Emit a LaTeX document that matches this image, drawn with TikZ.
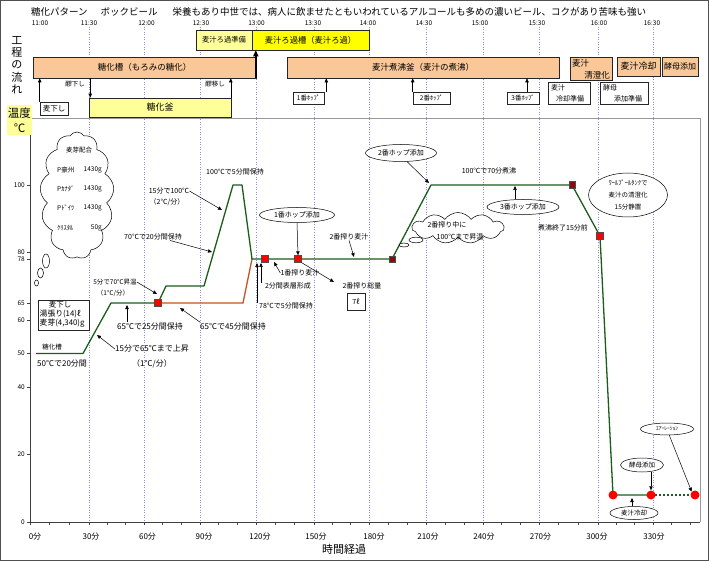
\documentclass[tikz,border=0pt]{standalone}
\usepackage{fontspec}
\setmainfont{Noto Sans CJK JP}
\usetikzlibrary{arrows.meta,shapes.geometric,shapes.symbols}
\definecolor{peach}{RGB}{249,199,152}
\definecolor{lyel}{RGB}{255,255,153}
\definecolor{byel}{RGB}{255,255,0}
\definecolor{dgreen}{RGB}{28,92,28}
\definecolor{rust}{RGB}{196,84,36}
\definecolor{gridc}{RGB}{140,140,228}
\definecolor{dred}{RGB}{140,10,10}
\definecolor{framec}{RGB}{80,80,80}
\tikzset{
  fs/.style={font=\fontsize{#1}{#1}\selectfont},
  boxline/.style={draw=black!85, line width=0.6pt, inner sep=0pt},
  obox/.style={boxline, fill=peach},
  ybox/.style={boxline, fill=lyel},
  bbox/.style={boxline, fill=byel},
  wbox/.style={boxline, fill=white},
  arr/.style={-{Triangle[length=4pt,width=3.4pt]}, line width=0.5pt},
  tarr/.style={-{Triangle[length=6pt,width=5pt]}, line width=2pt},
  oval/.style={ellipse, draw, line width=0.5pt, fill=white, inner sep=0pt},
  rsq/.style={rectangle, draw=black!70, line width=0.4pt, fill=red, minimum size=7pt, inner sep=0pt},
  dsq/.style={rsq, fill=dred},
  rdot/.style={circle, fill=red, minimum size=9pt, inner sep=0pt},
  gline/.style={gridc, dash pattern=on 1pt off 1.5pt, line width=0.45pt},
  tcurve/.style={dgreen, line width=1.3pt},
  lbl/.style={inner sep=0pt, fs=7},
}
\begin{document}
\begin{tikzpicture}[x=1pt,y=-1pt]
\useasboundingbox (0,0) rectangle (709,561);
\fill[white] (0,0) rectangle (709,561);
\draw[framec, line width=1.2pt] (0.6,0.6) rectangle (708.4,560.4);

% title and time labels
\node[anchor=west, inner sep=0pt, fs=9.5] (title) at (31,12) {糖化パターン\hspace{13pt}ボックビール\hspace{15pt}栄養もあり中世では、病人に飲ませたともいわれているアルコールも多めの濃いビール、コクがあり苦味も強い};
\foreach \x/\t [count=\i] in {40/11:00, 89/11:30, 146.5/12:00, 201/12:30, 256.5/13:00, 313/13:30, 368/14:00, 424/14:30, 480/15:00, 537/15:30, 599/16:00, 652/16:30}
  \node[lbl, fs=6.5] (tm\i) at (\x,23) {\t};

% grid lines
\foreach \x in {89,144,200,256,314,369,426,483,539,598,653}
  \draw[gline] (\x,27) -- (\x,522);

% plot frame and axes
\draw[black!40, line width=0.6pt] (30,118) -- (700,118) -- (700,522);
\draw[black!75, line width=0.7pt] (30,118) -- (30,522) -- (700,522);
\foreach \a/\b in {30/89,89/144,144/200,200/256,256/314,314/369,369/426,426/483,483/539,539/598,598/653,653/709}
  {\draw[black!75, line width=0.5pt] (\a,522) -- ++(0,3);
   \draw[black!75, line width=0.5pt] ({\a+(\b-\a)/3},522) -- ++(0,3);
   \draw[black!75, line width=0.5pt] ({\a+2*(\b-\a)/3},522) -- ++(0,3);}
\foreach \v/\y [count=\i] in {0/522,20/454.6,40/387.2,50/353.5,60/319.8,65/302.9,78/259.1,80/252.4,100/185}
  {\draw[black!75, line width=0.5pt] (27,\y) -- (30,\y);
   \node[lbl, fs=6.5, anchor=east] (yl\i) at (25,\y) {\v};}
\foreach \x/\t [count=\i] in {35/0分, 91/30分, 147.5/60分, 204/90分, 260/120分, 316/150分, 374/180分, 428/210分, 484/240分, 540.5/270分, 597/300分, 654/330分}
  \node[lbl, fs=8] (xl\i) at (\x,537) {\t};
\node[lbl, fs=11] (xtitle) at (344,549) {時間経過};

% left side titles
\node[inner sep=0pt, align=center, font=\fontsize{11}{12.3}\selectfont] (kotei) at (17,65) {工\\程\\の\\流\\れ};
\node[fill=lyel, minimum width=25pt, minimum height=30pt, inner sep=0pt, align=center, font=\fontsize{11.5}{15}\selectfont] (ondo) at (19.5,120) {温度\\℃};

% process boxes
\node[obox, minimum width=223pt, minimum height=21pt, fs=8.5] (tk) at (144.5,67.5) {糖化槽（もろみの糖化）};
\node[ybox, minimum width=142pt, minimum height=19pt, fs=9] (kama) at (160,107.5) {糖化釜};
\node[ybox, minimum width=56pt, minimum height=20pt, fs=7.3] (rokaj) at (224,40) {麦汁ろ過準備};
\node[bbox, minimum width=117pt, minimum height=20pt, fs=8.3] (roka) at (310.5,40) {麦汁ろ過槽（麦汁ろ過）};
\node[obox, minimum width=272pt, minimum height=21pt, fs=8.5] (nisha) at (423,67.5) {麦汁煮沸釜（麦汁の煮沸）};
\node[obox, minimum width=42pt, minimum height=23pt] (seicho) at (591,68.5) {};
\node[lbl, fs=8.5, anchor=west] (seicho1) at (572,63) {麦汁};
\node[lbl, fs=8.5, anchor=east] (seicho2) at (610,75) {清澄化};
\node[obox, minimum width=43pt, minimum height=19pt, fs=9] (reik) at (638.5,66.5) {麦汁冷却};
\node[obox, minimum width=36pt, minimum height=19pt, fs=8] (kobo) at (680,66.5) {酵母添加};
\node[wbox, minimum width=42pt, minimum height=22pt] (reikj) at (569,93) {};
\node[lbl, fs=7, anchor=west] (reikj1) at (551,88) {麦汁};
\node[lbl, fs=7, anchor=west] (reikj2) at (556,99) {冷却準備};
\node[wbox, minimum width=48pt, minimum height=22pt] (koboj) at (624,93) {};
\node[lbl, fs=7, anchor=west] (koboj1) at (603,88) {酵母};
\node[lbl, fs=7, anchor=west] (koboj2) at (614,99) {添加準備};
\node[wbox, minimum width=28pt, minimum height=13pt, fs=7.5] (mk) at (54,109) {麦下し};
\node[wbox, minimum width=31pt, minimum height=12pt, fs=6.5] (hop1) at (308.5,98) {1番ﾎｯﾌﾟ};
\node[wbox, minimum width=37pt, minimum height=12pt, fs=6.5] (hop2) at (431.5,98) {2番ﾎｯﾌﾟ};
\node[wbox, minimum width=32pt, minimum height=12pt, fs=6.5] (hop3) at (523,98) {3番ﾎｯﾌﾟ};
\node[lbl, fs=6.5] (moroshita) at (75,84) {醪下し};
\node[lbl, fs=6.5] (moroutsu) at (215,84) {醪移し};

% process arrows
\draw[arr] (mk.north west) -- (mk.north west |- tk.south);
\draw[arr] ([xshift=1.5pt]kama.north west |- tk.south) -- ([xshift=1.5pt]kama.north west);
\draw[arr] ([xshift=-0.5pt]kama.north east) -- ([xshift=-0.5pt]kama.north east |- tk.south);
\draw[tarr] ([xshift=-0.5pt]tk.south east) -- ([xshift=-0.5pt]tk.south east |- roka.south);
\draw[arr] ([xshift=2pt]hop1.north east) -- ([xshift=2pt]hop1.north east |- nisha.south);
\draw[arr] (hop2.north west) -- (hop2.north west |- nisha.south);
\draw[arr] ([xshift=4pt]hop3.north) -- ([xshift=4pt]hop3.north |- nisha.south);

% temperature curve
\coordinate (p0) at (36,353.5);
\coordinate (p1) at (83,353.5);
\coordinate (p2) at (111,303);
\coordinate (q0) at (158,303);
\coordinate (p4) at (166,286);
\coordinate (p5) at (204,286);
\coordinate (p6) at (233,185);
\coordinate (p7) at (242,185);
\coordinate (p8) at (252,259);
\coordinate (q1) at (243,303);
\coordinate (q2) at (265,259);
\coordinate (q3) at (298,259);
\coordinate (q4) at (392,259);
\coordinate (p9) at (431,185);
\coordinate (q5) at (572,185);
\coordinate (q6) at (600,236);
\coordinate (q7) at (613,495);
\coordinate (q8) at (651,495);
\coordinate (q9) at (695,495);
\draw[rust, line width=1.3pt] (q0) -- (q1) -- (p8);
\draw[tcurve, line join=round] (p0) -- (p1) -- (p2) -- (q0) -- (p4) -- (p5) -- (p6) -- (p7) -- (p8) -- (q4) -- (p9) -- (q5) -- (q6) -- (q7) -- (q8);
\draw[tcurve, dash pattern=on 2pt off 2pt] (q8) -- (q9);
\node[rsq] (s0) at (q0) {};
\node[rsq] (s1) at (q2) {};
\node[rsq] (s2) at (q3) {};
\node[dsq, minimum size=6pt] (s3) at (q4) {};
\node[dsq, minimum width=6pt, minimum height=7pt] (s4) at (q5) {};
\node[rsq] (s5) at (q6) {};
\node[rdot] (c1) at (q7) {};
\node[rdot] (c2) at (q8) {};
\node[rdot] (c3) at (q9) {};

% malt cloud
\node[cloud, draw, fill=white, line width=0.5pt, cloud puffs=13, cloud puff arc=115, cloud ignores aspect, minimum width=74pt, minimum height=127pt, inner sep=0pt] (cloudL) at (77,195.5) {};
\draw[line width=0.5pt, fill=white] (46,261) ellipse [x radius=3.5pt, y radius=7pt];
\draw[line width=0.5pt, fill=white] (40.5,273) ellipse [x radius=3pt, y radius=5pt];
\draw[line width=0.5pt, fill=white] (36.5,283) ellipse [x radius=2pt, y radius=3pt];
\node[lbl, fs=6.5] (maltT) at (79,150) {麦芽配合};
\foreach \n/\a/\y [count=\i] in {P豪州/1430g/170, Pｶﾅﾀﾞ/1430g/189, Pﾄﾞｲﾂ/1430g/208, ｸﾘｽﾀﾙ/50g/228}
  {\node[lbl, fs=6.5, anchor=west] (mn\i) at (57,\y) {\n};
   \node[lbl, fs=6.5, anchor=east] (ma\i) at (102,\y) {\a};}

% start box
\node[wbox, minimum width=51pt, minimum height=30pt] (mb) at (63.5,315) {};
\node[lbl, fs=7.5] (mb1) at (60,305) {麦下し};
\node[lbl, fs=7.8, anchor=west] (mb2) at (39.5,314) {湯張り(14)ℓ};
\node[lbl, fs=7.8, anchor=west] (mb3) at (39.5,323) {麦芽(4,340)g};

% chart labels
\node[lbl, fs=6.5] (tkl) at (52,347) {糖化槽};
\node[lbl, fs=8, anchor=west] (t50) at (37,364) {50℃で20分間};
\node[lbl, fs=8] (t15) at (152,349) {15分で65℃まで上昇};
\node[lbl, fs=8] (t15b) at (152,364) {（1℃/分）};
\node[lbl, fs=8] (t6525) at (150,326) {65℃で25分間保持};
\node[lbl, fs=8] (t6545) at (233,326) {65℃で45分間保持};
\node[lbl, fs=6.5] (t570) at (115,282) {5分で70℃昇温};
\node[lbl, fs=6.5] (t570b) at (113,293) {（1℃/分）};
\node[lbl, fs=7] (t70) at (153,237) {70℃で20分間保持};
\node[lbl, fs=7] (t100a) at (169,191) {15分で100℃};
\node[lbl, fs=7] (t100b) at (167,202) {（2℃/分）};
\node[lbl, fs=7] (t1005) at (235,172) {100℃で5分間保持};
\node[lbl, fs=7] (t1sb) at (300,273) {1番搾り麦汁};
\node[lbl, fs=7] (t2fun) at (288,286) {2分間表層形成};
\node[lbl, fs=7] (t78) at (286,306) {78℃で5分間保持};
\node[lbl, fs=7] (t2sb) at (349,237) {2番搾り麦汁};
\node[lbl, fs=7] (t2so) at (362,286) {2番搾り総量};
\node[wbox, minimum width=18pt, minimum height=17pt, fs=7] (t7l) at (356,301.5) {7ℓ};
\node[lbl, fs=7] (t10070) at (489,171) {100℃で70分煮沸};
\node[lbl, fs=7] (tend) at (563,228) {煮沸終了15分前};

% right cloud
\node[cloud, draw, fill=white, line width=0.5pt, cloud puffs=11, cloud puff arc=110, cloud ignores aspect, minimum width=92pt, minimum height=31pt, inner sep=0pt] (cloudR) at (458,228) {};
\draw[line width=0.5pt, fill=white] (416,240) ellipse [x radius=7pt, y radius=2.8pt];
\draw[line width=0.5pt, fill=white] (404,245) ellipse [x radius=5pt, y radius=2pt];
\node[lbl, fs=7] (tcr1) at (447,225) {2番搾り中に};
\node[lbl, fs=7] (tcr2) at (460,237) {100℃まで昇温};

% ellipses
\node[oval, minimum width=75pt, minimum height=15pt, fs=7] (e1) at (297,215) {1番ホップ添加};
\node[oval, minimum width=71pt, minimum height=17pt, fs=7] (e2) at (401,153) {2番ホップ添加};
\node[oval, minimum width=72pt, minimum height=15pt, fs=7] (e3) at (523,207) {3番ホップ添加};
\node[oval, minimum width=79pt, minimum height=44pt, align=center, font=\fontsize{6.5}{12}\selectfont] (e4) at (628,195) {ﾜｰﾙﾌﾟｰﾙﾀﾝｸで\\麦汁の清澄化\\15分静置};
\node[oval, minimum width=43pt, minimum height=14pt, fs=6.5] (e5) at (642,465) {酵母添加};
\node[oval, minimum width=48pt, minimum height=13pt, fs=6.5] (e6) at (634,513) {麦汁冷却};
\node[oval, minimum width=53pt, minimum height=12pt, fs=5.5] (e7) at (667,429) {ｴｱｰﾚｰｼｮﾝ};

% annotation arrows
\coordinate (a1) at (97,335);
\coordinate (a2) at (127,305);
\coordinate (a3) at (180,308);
\coordinate (a4) at (157,294);
\coordinate (a5) at (212,252);
\coordinate (a6) at (222,210);
\coordinate (a8) at (274,262);
\coordinate (a9) at (261,263);
\coordinate (a10) at (257,263);
\coordinate (a11) at (334,282);
\coordinate (a12) at (354,257);
\coordinate (a13) at (429,183);
\coordinate (a14) at (515,186);
\coordinate (a16) at (632,498);
\draw[arr] (t15.west) -- (a1);
\draw[arr] (t6525.north -| a2) -- (a2);
\draw[arr] (t6545.north west) -- (a3);
\draw[arr] (t570.east) -- (a4);
\draw[arr] ([xshift=-12pt]t70.south east) -- (a5);
\draw[arr] (t100a.east) -- (a6);
\draw[arr] (e1.south) -- (s2.north);
\draw[arr] (t1sb.west) -- (a8);
\draw[arr] (t2fun.north west -| a9) -- (a9);
\draw[arr] (t78.north west -| a10) -- (a10);
\draw[arr] (s2.south east) -- (a11);
\draw[arr] (t2sb.south) -- (a12);
\draw[arr] (e2.-55) -- (a13);
\draw[arr] (e3.north -| a14) -- (a14);
\draw[arr] (e5.south -| c2) -- (c2.north);
\draw[arr] (e6.north -| a16) -- (a16);
\draw[arr] (e7.-70) -- (c3.north west);
\end{tikzpicture}
\end{document}
